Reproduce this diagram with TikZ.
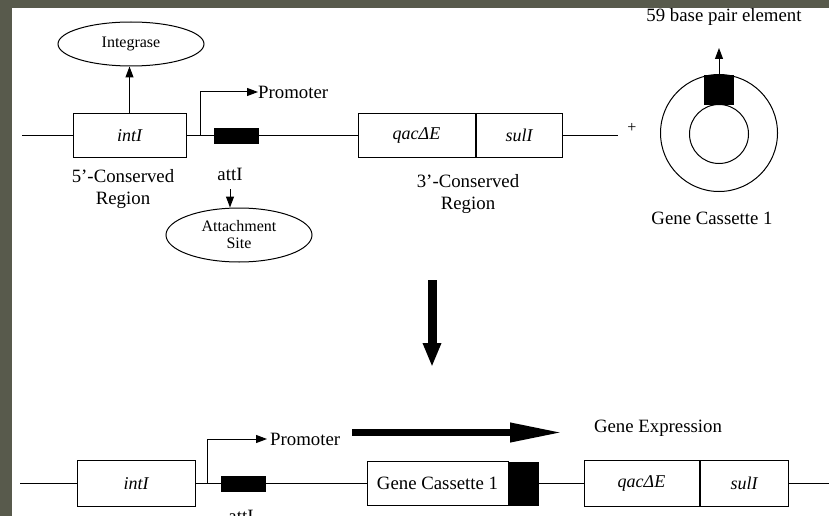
\documentclass[tikz,border=0pt]{standalone}
\usepackage{fontspec}
\setmainfont{Liberation Serif}
\usetikzlibrary{shapes.geometric,arrows.meta}
\definecolor{framegray}{RGB}{88,90,76}

\begin{document}
\begin{tikzpicture}[x=1pt,y=-1pt,
  gene/.style={draw,line width=1pt,minimum height=44pt,inner sep=0pt,font=\fontsize{18}{20}\selectfont\itshape},
  blk/.style={fill=black,inner sep=0pt,minimum width=45pt,minimum height=16pt},
  oval/.style={ellipse,draw,line width=1pt,inner sep=0pt,minimum width=146pt,align=center,font=\fontsize{16}{17}\selectfont},
  lbl/.style={inner sep=0pt,align=center,font=\fontsize{18.8}{22}\selectfont},
  thin/.style={line width=1pt},
  tip/.style={-{Triangle[length=11pt,width=8pt]}}]
\useasboundingbox (0,0) rectangle (829,516);
\fill[framegray] (0,0) rectangle (829,516);
\fill[white] (12,8) rectangle (829,516);
% before integration
\coordinate (l0) at (22,135.5);
\coordinate (l1) at (618,135.5);
\node[gene,minimum width=113pt] (int) at (129.5,135.5) {intI};
\node[blk] (att) at (236.5,135.5) {};
\node[gene,minimum width=117pt] (qac) at (416.5,135.5) {qacΔE};
\node[gene,minimum width=86pt,anchor=west] (sul) at (qac.east) {sulI};
\draw[thin] (l0) -- (int) -- (att) -- (qac);
\draw[thin] (sul) -- (l1);
\node[inner sep=0pt,font=\fontsize{16}{17}\selectfont] (plus) at (632,128) {+};
\coordinate (p0) at (200,135.5);
\coordinate (p1) at (258,92);
\draw[thin,tip] (p0) |- (p1);
\node[lbl,anchor=west] (prom) at (p1) {Promoter};
\node[oval,minimum height=44pt] (integ) at (131,44) {Integrase};
\draw[thin,tip] (int.north) -- (int.north |- integ.south);
\node[lbl] (cons5) at (123,189) {5'-Conserved\\Region};
\node[lbl] (attlab) at (230,174) {attI};
\node[oval,minimum height=54pt] (attach) at (239,235) {Attachment\\Site};
\draw[thin,tip,shorten <=9pt] (attlab.south) -- (attlab.south |- attach.north);
\node[lbl] (cons3) at (468,194) {3'-Conserved\\Region};
\node[circle,draw,thin,inner sep=0pt,minimum size=117pt] (outer) at (719,133) {};
\node[circle,draw,thin,inner sep=0pt,minimum size=59pt] (inner) at (719,134) {};
\node[fill=black,inner sep=0pt,minimum size=30pt] (elem) at (719,90) {};
\coordinate (bptip) at (719,48);
\draw[thin,tip] (elem.north) -- (bptip);
\node[lbl] (bp) at (724,17) {59 base pair element};
\node[lbl] (gc1) at (712,218) {Gene Cassette 1};
% integration
\coordinate (d0) at (432,280);
\coordinate (d1) at (432,367);
\draw[line width=9pt,-{Triangle[length=24pt,width=17pt]}] (d0) -- (d1);
% after integration
\coordinate (m0) at (20,483.5);
\coordinate (m1) at (829,483.5);
\node[gene,minimum width=118pt,minimum height=46pt] (int2) at (136,483.5) {intI};
\node[blk] (att2) at (243.5,483.5) {};
\node[gene,minimum width=141pt,font=\fontsize{18.8}{22}\selectfont] (gc) at (437.5,483.5) {Gene Cassette 1};
\node[fill=black,inner sep=0pt,minimum width=30pt,minimum height=44pt,anchor=west] (gcblk) at (gc.east) {};
\node[gene,minimum width=115pt,minimum height=46pt] (qac2) at (641.5,483.5) {qacΔE};
\node[gene,minimum width=88pt,minimum height=46pt,anchor=west] (sul2) at (qac2.east) {sulI};
\draw[thin] (m0) -- (int2) -- (att2) -- (gc);
\draw[thin] (gcblk) -- (qac2);
\draw[thin] (sul2) -- (m1);
\coordinate (q0) at (207,483.5);
\coordinate (q1) at (267,439);
\draw[thin,tip] (q0) |- (q1);
\node[lbl,anchor=west] (prom2) at ([xshift=3pt]q1) {Promoter};
\node[lbl] (attlab2) at (241,516) {attI};
\coordinate (e0) at (352,432.5);
\coordinate (e1) at (563,432.5);
\draw[line width=7pt,-{Triangle[length=53pt,width=18pt]}] (e0) -- (e1);
\node[lbl] (expr) at (658,428) {Gene Expression};
\end{tikzpicture}
\end{document}
